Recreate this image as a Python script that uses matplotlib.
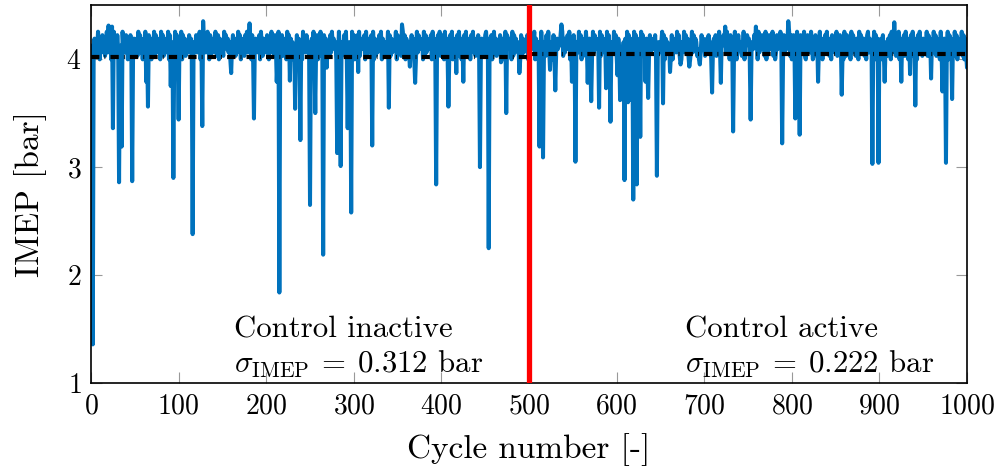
import numpy as np
import matplotlib
matplotlib.use("Agg")
import matplotlib.pyplot as plt

plt.rcParams["font.family"] = "serif"
plt.rcParams["font.serif"] = ["cmr10"]
plt.rcParams["mathtext.fontset"] = "cm"
plt.rcParams["axes.formatter.use_mathtext"] = True
plt.rcParams["lines.scale_dashes"] = False

# Upper band of the IMEP trace, one digit per cycle (1..1000):
band_digits = (
    "58372649517384625937481659273846152947386152849375"
    "47295836174925386417592836471958264739182647395826"
    "63918472563847192658374916285734961827453962817364"
    "29584736195847263958174628593746182957463819527463"
    "85173946285719364827561938472615938475261947385612"
    "47392658174926385714628395746182937564829174635928"
    "16483927564819273658491726358491736254918273645918"
    "73625948172639584716293857461928375648192736485927"
    "58194736285917463829571648392756184937265849173628"
    "94726381594726358417629385746192837465918273645819"
    "36485917263849571628394756182937465819273648591726"
    "85726394817263958471629384756192837465928174639582"
    "47391826573948162759384617295836471928365748192635"
    "69281746359281746395827164938572614938576241938576"
    "24758361947582639417586239471856329417856324917586"
    "71936485271936485729163847592613847596218374659281"
    "38572916483759216847395126847359261748395726184735"
    "92648573196284751938462751938647251893746259183746"
    "57183946275819364728591637482956173849265718394627"
    "46392857163948275619384726591837462958173649281735"
)

# Single cycles that leave the band (misfires, partial burns, peaks)
event_cycles = [2, 20, 24, 25, 32, 35, 47, 63, 65, 91, 94, 100, 116, 127, 128,
                160, 181, 186, 212, 215, 227, 233, 239, 250, 256, 265, 269,
                281, 285, 293, 297, 305, 321, 340, 355, 364, 370, 394, 408,
                417, 425, 444, 454, 468, 474, 489,
                512, 516, 524, 530, 537, 549, 553, 567, 571, 580, 588, 593,
                601, 604, 606, 609, 611, 613, 615, 617, 619, 621, 623, 625,
                627, 633, 636, 646, 653, 661, 673, 683, 695, 709, 719, 724,
                733, 753, 759, 789, 796, 804, 809, 830, 857, 892, 899, 906,
                917, 925, 935, 941, 959, 972, 976, 983, 1000]
event_values = [1.36, 4.31, 4.30, 3.36, 2.86, 3.19, 2.87, 3.79, 3.56, 3.75, 2.90, 3.44, 2.38, 3.38, 4.35,
                3.87, 4.33, 3.45, 3.79, 1.84, 3.80, 3.54, 3.25, 2.65, 3.50, 2.19, 3.92,
                3.13, 3.01, 3.36, 2.58, 3.88, 3.20, 3.55, 4.32, 3.93, 3.78, 2.84, 3.56,
                3.87, 3.79, 3.00, 2.25, 3.97, 3.50, 3.87,
                3.19, 3.09, 3.90, 3.71, 4.32, 3.79, 3.05, 3.78, 3.61, 3.55, 3.73, 3.42,
                3.85, 3.62, 3.75, 2.88, 3.65, 3.60, 3.70, 3.62, 2.70, 3.66, 2.84, 3.61,
                3.28, 3.79, 3.64, 2.92, 3.59, 3.88, 3.95, 3.93, 3.95, 3.69, 3.78, 4.30,
                3.33, 3.44, 4.30, 3.22, 4.35, 3.45, 3.30, 3.79, 3.67, 3.03, 3.04, 3.79,
                4.34, 3.79, 3.86, 3.57, 3.82, 3.70, 3.04, 3.63, 3.92]

mean_inactive = 4.02
mean_active = 4.05
switch_cycle = 500
label_inactive = ["Control inactive", r"$\sigma_{\mathrm{IMEP}}\:=\:0.312$ bar"]
label_active = ["Control active", r"$\sigma_{\mathrm{IMEP}}\:=\:0.222$ bar"]

cycles = np.arange(1, len(band_digits) + 1)
imep = 3.965 + 0.032 * np.array([int(c) for c in band_digits])
imep[np.array(event_cycles) - 1] = event_values

fig = plt.figure(figsize=(9.97, 4.67), dpi=100)
ax = fig.add_axes([0.0913, 0.1792, 0.8786, 0.8101])

ax.plot(cycles, imep, color="#0072BD", lw=2.9, solid_joinstyle="round",
        solid_capstyle="round", zorder=2)
ax.plot([0, switch_cycle], [mean_inactive] * 2, color="black", lw=3.0,
        dashes=[6, 3.7, 0.6, 3.7], zorder=3)
ax.plot([switch_cycle, 1000], [mean_active] * 2, color="black", lw=3.0,
        dashes=[6, 3.7, 0.6, 3.7], zorder=3)
ax.axvline(switch_cycle, color="#FF0000", lw=3.8, zorder=4)

ax.text(163, 1.42, label_inactive[0], fontsize=22.2, va="baseline")
ax.text(163, 1.095, label_inactive[1], fontsize=22.2, va="baseline")
ax.text(678, 1.42, label_active[0], fontsize=22.2, va="baseline")
ax.text(678, 1.095, label_active[1], fontsize=22.2, va="baseline")

ax.set_xlim(0, 1000)
ax.set_ylim(1, 4.5)
ax.set_xticks(np.arange(0, 1001, 100))
ax.set_yticks([1, 2, 3, 4])
ax.tick_params(direction="in", length=8, width=0.8, color="0.6",
               top=True, right=True, labelsize=20, pad=7)
for s in ax.spines.values():
    s.set_linewidth(1.2)
ax.set_xlabel("Cycle number [-]", fontsize=24, labelpad=10)
ax.set_ylabel("IMEP [bar]", fontsize=24, labelpad=14)

fig.savefig("out.png", dpi=100)
